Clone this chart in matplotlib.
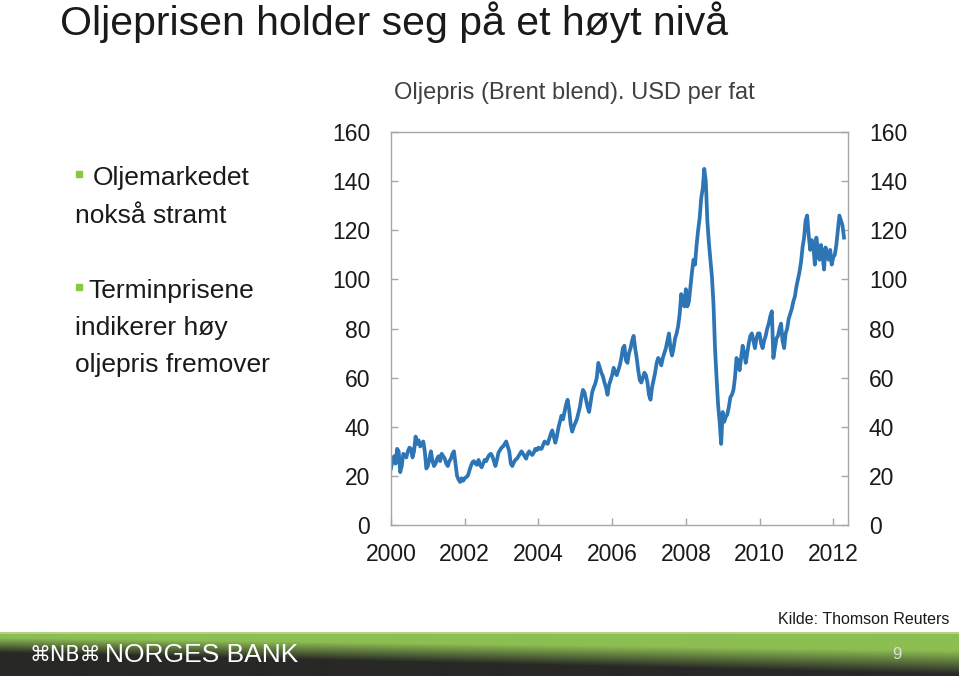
import numpy as np
import matplotlib
matplotlib.use("Agg")
import matplotlib.pyplot as plt

plt.rcParams['font.family'] = ['Liberation Sans', 'DejaVu Sans']

# ---- data: Brent price, USD per barrel, semi-monthly readings ----
years = list(range(2000, 2013))
brent = {
    2000: [23, 26, 28, 25, 31, 30, 21.5, 24, 29, 28.5, 27.5, 30, 31.5, 31, 27.5, 30, 36, 33, 34.5, 32, 33, 34, 30, 23],
    2001: [24, 27, 30, 26, 24, 25, 27, 28, 26, 29, 28, 27, 25, 24, 26, 27, 29, 30, 25, 20, 18.5, 17.5, 19, 18],
    2002: [19, 19.5, 20, 22, 24, 25.5, 26, 25, 24.5, 26.5, 24.5, 23.5, 25, 26.5, 26, 27.5, 28.5, 29, 28, 26, 24, 26.5, 29.5, 30.5],
    2003: [31.5, 32, 33, 34, 32, 30, 25, 24, 25.5, 26.5, 27, 28, 29, 30, 29, 28, 27, 29, 30, 29, 28.5, 29.5, 31, 30.5],
    2004: [31.5, 31, 31, 32.5, 34, 33.5, 33, 35, 37, 38.5, 36, 33.5, 36, 39.5, 42, 44.5, 43, 46, 49, 51, 47, 41, 38, 40],
    2005: [41.5, 43, 45.5, 48, 52, 55, 54, 51, 48, 46, 50, 54, 56, 57.5, 60, 66, 64, 62, 60.5, 58, 56, 53, 57, 59],
    2006: [61, 64, 62, 61, 63, 65, 68, 72, 73, 67, 66, 70, 72, 75, 77, 72, 68, 63, 59, 58, 60, 62, 61, 58],
    2007: [53, 51, 56, 59, 62, 66, 68, 67, 65, 68, 70, 72, 75, 78, 72, 69, 72, 76, 78, 81, 86, 94, 91, 89],
    2008: [96, 89, 91, 97, 103, 108, 106, 114, 120, 125, 133, 137, 145, 140, 124, 115, 108, 101, 90, 72, 60, 49, 42, 33],
    2009: [46, 42, 44, 45, 48, 52, 53, 55, 60, 68, 66, 63, 68, 73, 70, 66, 70, 74, 77, 78, 75, 72, 76, 78],
    2010: [78, 74, 72, 75, 77, 80, 82, 85, 87, 68, 72, 76, 77, 80, 82, 75, 72, 78, 80, 84, 86, 88, 91, 93],
    2011: [97, 100, 103, 107, 113, 117, 124, 126, 118, 112, 116, 114, 106, 117, 112, 108, 114, 110, 104, 113, 110, 108, 112, 106],
    2012: [109, 110, 114, 120, 126, 124, 122, 117],
}
yticks = [0, 20, 40, 60, 80, 100, 120, 140, 160]
xticks = [2000, 2002, 2004, 2006, 2008, 2010, 2012]
title = "Oljeprisen holder seg på et høyt nivå"
chart_title = "Oljepris (Brent blend). USD per fat"
source = "Kilde: Thomson Reuters"

dates = np.concatenate([y + np.arange(len(brent[y])) / 24.0 for y in years])
values = np.concatenate([brent[y] for y in years])

W, H = 959, 676
fig = plt.figure(figsize=(W / 100, H / 100), dpi=100)

def fx(px):
    return px / W

def fy(py):
    return 1 - py / H

# ---- bottom band with gradient ----
band = fig.add_axes([0, 0, 1, 44 / H])
ny, nx = 44, 240
yy = np.linspace(0, 1, ny)[:, None]
xx = np.linspace(0, 1, nx)[None, :]
start = 0.12 + 0.30 * xx
span = 0.35 + 0.2 * xx
t = np.clip((yy - start) / span, 0, 1)
green = np.array([141, 190, 82]) / 255
dark = np.array([40, 40, 38]) / 255
img = green[None, None, :] * (1 - t[..., None]) + dark[None, None, :] * t[..., None]
img[0:2] = np.array([180, 210, 130]) / 255
band.imshow(img, aspect='auto', extent=[0, 1, 0, 1], interpolation='bilinear')
band.set_axis_off()
band.text(30 / W, 0.48, "⌘NB⌘", color='white', fontsize=15, va='center', ha='left',
          family=['DejaVu Sans'], transform=band.transAxes)
band.text(105 / W, 0.48, "NORGES BANK", color='white', fontsize=19, va='center', ha='left',
          transform=band.transAxes)
band.text(897 / W, 0.48, "9", color='#e0e0e0', fontsize=12, va='center', ha='center',
          transform=band.transAxes)

# ---- main axes ----
ax = fig.add_axes([fx(391), fy(525), fx(848) - fx(391), (525 - 132) / H])
ax.plot(dates, values, color='#2E75B6', lw=2.7, solid_joinstyle='round')
ax.set_xlim(2000, 2012.4)
ax.set_ylim(0, 160)
ax.set_yticks(yticks)
ax.set_xticks(xticks)
ax.set_xticklabels([str(v) for v in xticks])
for s in ax.spines.values():
    s.set_color('#a6a6a6')
    s.set_linewidth(1.0)
ax.tick_params(axis='y', which='both', direction='in', length=5, width=1, color='#a6a6a6',
               labelsize=16.5, pad=15, left=True, right=True, labelleft=True, labelright=True)
ax.tick_params(axis='x', direction='in', length=5, width=1, color='#a6a6a6',
               labelsize=16.5, pad=13)
for lbl in ax.get_yticklabels() + ax.get_xticklabels():
    lbl.set_color('#1a1a1a')

# ---- texts ----
fig.text(fx(60), fy(35), title, fontsize=29.5, color='#1a1a1a', va='baseline', ha='left')
fig.text(fx(574), fy(99), chart_title, fontsize=17, color='#404040', va='baseline', ha='center')
fig.text(fx(949), fy(624), source, fontsize=11.5, color='#1a1a1a', va='baseline', ha='right')

bullet_color = '#8DC63F'
lines = [
    (93, 185, "Oljemarkedet", True),
    (75, 223, "nokså stramt", False),
    (88, 298, "Terminprisene", True),
    (75, 335, "indikerer høy", False),
    (75, 372, "oljepris fremover", False),
]
for x, y, s, bullet in lines:
    fig.text(fx(x), fy(y), s, fontsize=19, color='#1a1a1a', va='baseline', ha='left')
    if bullet:
        fig.patches.append(plt.Rectangle((fx(76), fy(y - 8)), 6 / W, 6 / H,
                                         transform=fig.transFigure, color=bullet_color,
                                         figure=fig))

fig.savefig("out.png", dpi=100)
